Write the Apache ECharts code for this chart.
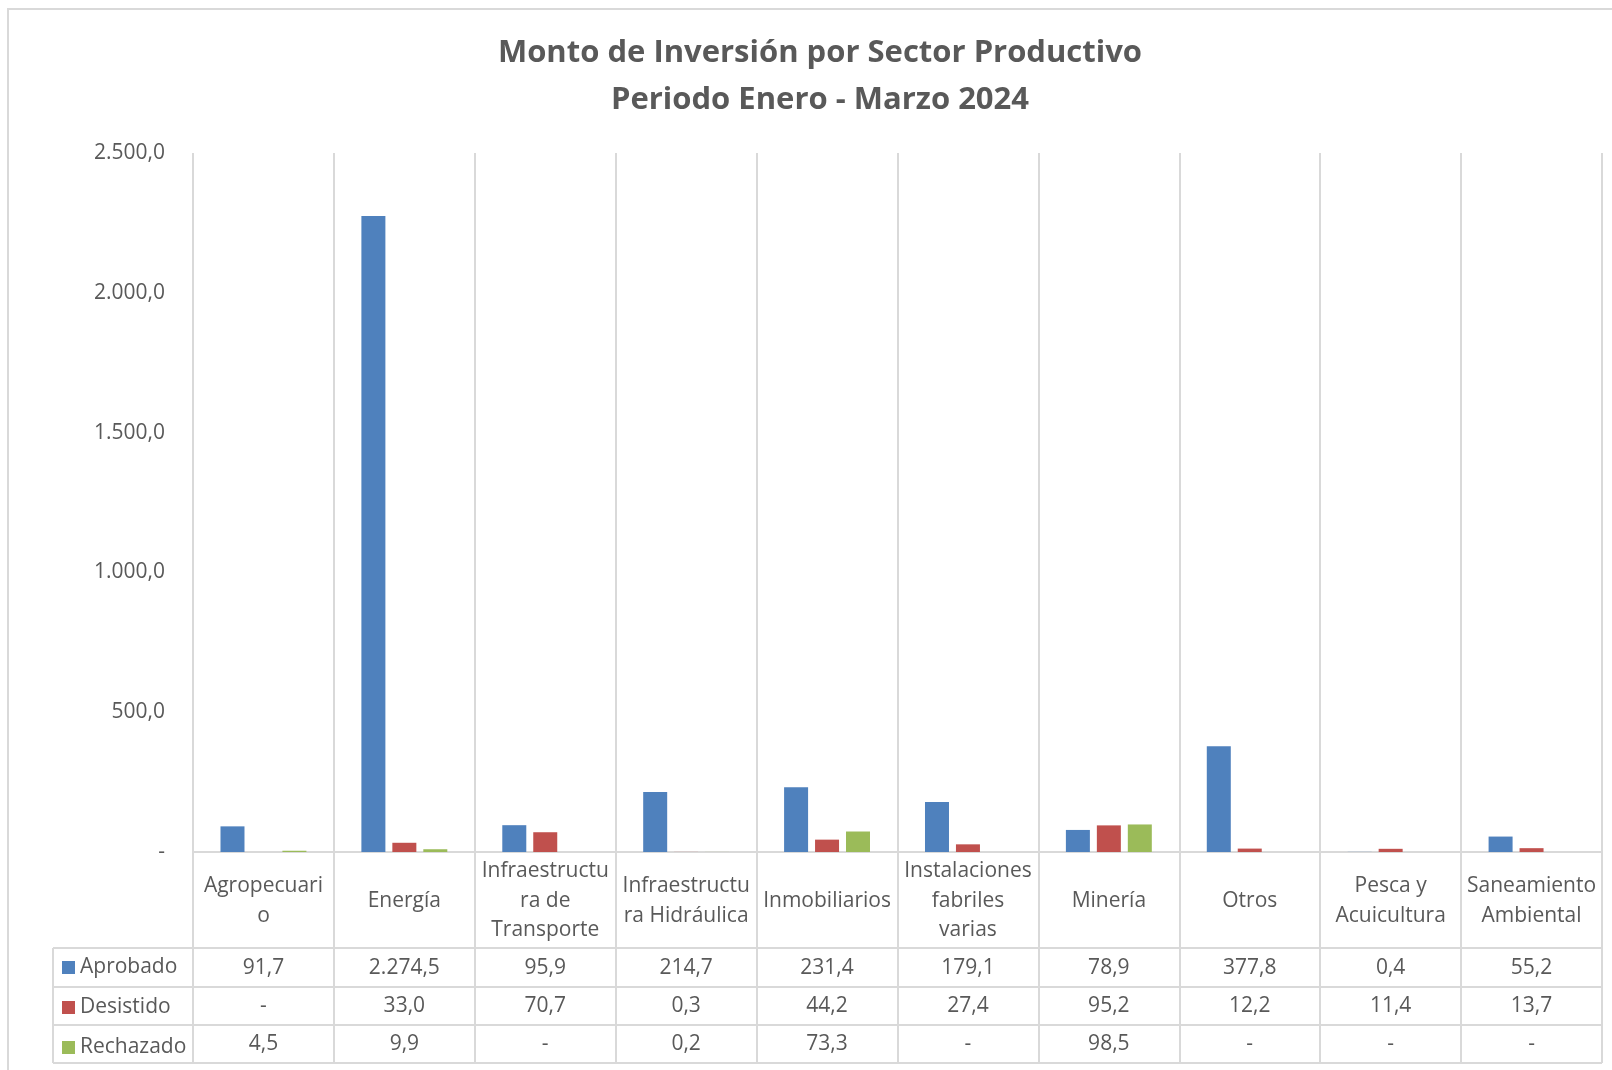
<!DOCTYPE html>
<html>
<head>
<meta charset="utf-8">
<title>Monto de Inversión por Sector Productivo</title>
<script src="https://cdn.jsdelivr.net/npm/echarts@6/dist/echarts.min.js"></script>
<style>
  html, body { margin: 0; padding: 0; background: #fff; }
  #chart { width: 1612px; height: 1070px; }
</style>
</head>
<body>
<div id="chart"></div>
<script>
// categories as Excel wraps them in the data table header
var categories = [
  'Agropecuari\no', 'Energía', 'Infraestructu\nra de\nTransporte', 'Infraestructu\nra Hidráulica',
  'Inmobiliarios', 'Instalaciones\nfabriles\nvarias', 'Minería', 'Otros',
  'Pesca y\nAcuicultura', 'Saneamiento\nAmbiental'
];
var aprobado  = [91.7, 2274.5, 95.9, 214.7, 231.4, 179.1, 78.9, 377.8, 0.4, 55.2];
var desistido = [0, 33.0, 70.7, 0.3, 44.2, 27.4, 95.2, 12.2, 11.4, 13.7];
var rechazado = [4.5, 9.9, 0, 0.2, 73.3, 0, 98.5, 0, 0, 0];
var yTicks = [0, 500, 1000, 1500, 2000, 2500];

var gray = '#595959';
var lineGray = '#d9d9d9';
var font = '"Open Sans", "Noto Sans", sans-serif';

// 2274.5 -> "2.274,5", 0 -> "-"
function fmt(v) {
  if (v === 0) return '-';
  var parts = v.toFixed(1).split('.');
  return parts[0].replace(/\B(?=(\d{3})+(?!\d))/g, '.') + ',' + parts[1];
}

var chart = echarts.init(document.getElementById('chart'));

function tableAxis(values, margin) {
  return {
    type: 'category',
    gridIndex: 0,
    position: 'bottom',
    data: categories,
    axisLine: { show: false },
    axisTick: { show: false },
    splitLine: { show: false },
    axisLabel: {
      interval: 0,
      margin: margin,
      verticalAlign: 'middle',
      fontFamily: font,
      fontSize: 21,
      color: gray,
      formatter: function (val, idx) { return fmt(values[idx]); }
    }
  };
}

var option = {
  backgroundColor: '#fff',
  animation: false,
  title: {
    text: 'Monto de Inversión por Sector Productivo\nPeriodo Enero - Marzo 2024',
    left: 820,
    textAlign: 'center',
    top: 30,
    padding: 0,
    textStyle: {
      fontFamily: font,
      fontWeight: 'bold',
      fontSize: 31,
      lineHeight: 47,
      color: gray
    }
  },
  legend: {
    orient: 'vertical',
    left: 62,
    top: 957,
    padding: 0,
    itemGap: 19,
    itemWidth: 13,
    itemHeight: 13,
    icon: 'rect',
    textStyle: { fontFamily: font, fontSize: 21, lineHeight: 20, color: gray },
    data: ['Aprobado', 'Desistido', 'Rechazado']
  },
  grid: [
    { left: 193, right: 10, top: 153, height: 699, outerBoundsMode: 'none', containLabel: false },
    { left: 193, right: 10, top: 852, height: 211, outerBoundsMode: 'none', containLabel: false }
  ],
  xAxis: [
    {
      type: 'category',
      gridIndex: 0,
      position: 'bottom',
      data: categories,
      axisLine: { lineStyle: { color: lineGray, width: 2 } },
      axisTick: { show: false },
      splitLine: { show: true, lineStyle: { color: lineGray, width: 2 } },
      axisLabel: {
        interval: 0,
        margin: 49,
        verticalAlign: 'middle',
        lineHeight: 29.5,
        fontFamily: font,
        fontSize: 21,
        color: gray
      }
    },
    tableAxis(aprobado, 116),
    tableAxis(desistido, 154),
    tableAxis(rechazado, 192),
    {
      type: 'category',
      gridIndex: 1,
      data: categories,
      axisLine: { show: false },
      axisTick: { show: false },
      axisLabel: { show: false },
      splitLine: { show: true, lineStyle: { color: lineGray, width: 2 } }
    }
  ],
  yAxis: [
    {
      type: 'value',
      gridIndex: 0,
      min: yTicks[0],
      max: yTicks[yTicks.length - 1],
      interval: 500,
      axisLine: { show: false },
      axisTick: { show: false },
      splitLine: { show: false },
      axisLabel: {
        margin: 28,
        fontFamily: font,
        fontSize: 21,
        color: gray,
        formatter: fmt
      }
    },
    { type: 'value', gridIndex: 1, show: false }
  ],
  series: [
    { name: 'Aprobado', type: 'bar', data: aprobado, barWidth: 24, barGap: '29%',
      itemStyle: { color: '#4F81BD' } },
    { name: 'Desistido', type: 'bar', data: desistido, barWidth: 24, barGap: '29%',
      itemStyle: { color: '#C0504D' } },
    { name: 'Rechazado', type: 'bar', data: rechazado, barWidth: 24, barGap: '29%',
      itemStyle: { color: '#9BBB59' } }
  ],
  graphic: [
    // outer chart border
    { type: 'rect', shape: { x: 8, y: 9, width: 1700, height: 1100 },
      style: { fill: 'none', stroke: lineGray, lineWidth: 2 }, silent: true },
    // data table row borders
    { type: 'line', shape: { x1: 53, y1: 948, x2: 1602, y2: 948 }, style: { stroke: lineGray, lineWidth: 2 } },
    { type: 'line', shape: { x1: 53, y1: 987, x2: 1602, y2: 987 }, style: { stroke: lineGray, lineWidth: 2 } },
    { type: 'line', shape: { x1: 53, y1: 1025, x2: 1602, y2: 1025 }, style: { stroke: lineGray, lineWidth: 2 } },
    { type: 'line', shape: { x1: 53, y1: 1063, x2: 1602, y2: 1063 }, style: { stroke: lineGray, lineWidth: 2 } },
    { type: 'line', shape: { x1: 53, y1: 948, x2: 53, y2: 1063 }, style: { stroke: lineGray, lineWidth: 2 } }
  ]
};

chart.setOption(option);
</script>
</body>
</html>
